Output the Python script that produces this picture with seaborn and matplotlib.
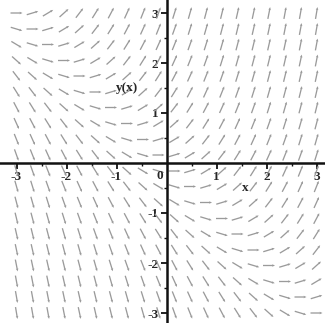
# Direction field of y'(x) (Maple style plot)

import matplotlib
matplotlib.use('Agg')
import matplotlib.pyplot as plt
import numpy as np
import seaborn as sns

# grid points of the arrows (20 x 20)
grid_x = [-3.00, -2.68, -2.37, -2.05, -1.74, -1.42, -1.11, -0.79, -0.47, -0.16,
          0.16, 0.47, 0.79, 1.11, 1.42, 1.74, 2.05, 2.37, 2.68, 3.00]
grid_y = [-3.00, -2.68, -2.37, -2.05, -1.74, -1.42, -1.11, -0.79, -0.47, -0.16,
          0.16, 0.47, 0.79, 1.11, 1.42, 1.74, 2.05, 2.37, 2.68, 3.00]

# slope dy/dx at each grid point, one row per grid_y value (bottom row first)
slopes = [
    [-6.0, -5.7, -5.4, -5.1, -4.7, -4.4, -4.1, -3.8, -3.5, -3.2, -2.8, -2.5, -2.2, -1.9, -1.6, -1.3, -0.9, -0.6, -0.3, 0.0],
    [-5.7, -5.4, -5.1, -4.7, -4.4, -4.1, -3.8, -3.5, -3.2, -2.8, -2.5, -2.2, -1.9, -1.6, -1.3, -0.9, -0.6, -0.3, 0.0, 0.3],
    [-5.4, -5.1, -4.7, -4.4, -4.1, -3.8, -3.5, -3.2, -2.8, -2.5, -2.2, -1.9, -1.6, -1.3, -0.9, -0.6, -0.3, 0.0, 0.3, 0.6],
    [-5.1, -4.7, -4.4, -4.1, -3.8, -3.5, -3.2, -2.8, -2.5, -2.2, -1.9, -1.6, -1.3, -0.9, -0.6, -0.3, 0.0, 0.3, 0.6, 0.9],
    [-4.7, -4.4, -4.1, -3.8, -3.5, -3.2, -2.8, -2.5, -2.2, -1.9, -1.6, -1.3, -0.9, -0.6, -0.3, 0.0, 0.3, 0.6, 0.9, 1.3],
    [-4.4, -4.1, -3.8, -3.5, -3.2, -2.8, -2.5, -2.2, -1.9, -1.6, -1.3, -0.9, -0.6, -0.3, 0.0, 0.3, 0.6, 0.9, 1.3, 1.6],
    [-4.1, -3.8, -3.5, -3.2, -2.8, -2.5, -2.2, -1.9, -1.6, -1.3, -0.9, -0.6, -0.3, 0.0, 0.3, 0.6, 0.9, 1.3, 1.6, 1.9],
    [-3.8, -3.5, -3.2, -2.8, -2.5, -2.2, -1.9, -1.6, -1.3, -0.9, -0.6, -0.3, 0.0, 0.3, 0.6, 0.9, 1.3, 1.6, 1.9, 2.2],
    [-3.5, -3.2, -2.8, -2.5, -2.2, -1.9, -1.6, -1.3, -0.9, -0.6, -0.3, 0.0, 0.3, 0.6, 0.9, 1.3, 1.6, 1.9, 2.2, 2.5],
    [-3.2, -2.8, -2.5, -2.2, -1.9, -1.6, -1.3, -0.9, -0.6, -0.3, 0.0, 0.3, 0.6, 0.9, 1.3, 1.6, 1.9, 2.2, 2.5, 2.8],
    [-2.8, -2.5, -2.2, -1.9, -1.6, -1.3, -0.9, -0.6, -0.3, 0.0, 0.3, 0.6, 0.9, 1.3, 1.6, 1.9, 2.2, 2.5, 2.8, 3.2],
    [-2.5, -2.2, -1.9, -1.6, -1.3, -0.9, -0.6, -0.3, 0.0, 0.3, 0.6, 0.9, 1.3, 1.6, 1.9, 2.2, 2.5, 2.8, 3.2, 3.5],
    [-2.2, -1.9, -1.6, -1.3, -0.9, -0.6, -0.3, 0.0, 0.3, 0.6, 0.9, 1.3, 1.6, 1.9, 2.2, 2.5, 2.8, 3.2, 3.5, 3.8],
    [-1.9, -1.6, -1.3, -0.9, -0.6, -0.3, 0.0, 0.3, 0.6, 0.9, 1.3, 1.6, 1.9, 2.2, 2.5, 2.8, 3.2, 3.5, 3.8, 4.1],
    [-1.6, -1.3, -0.9, -0.6, -0.3, 0.0, 0.3, 0.6, 0.9, 1.3, 1.6, 1.9, 2.2, 2.5, 2.8, 3.2, 3.5, 3.8, 4.1, 4.4],
    [-1.3, -0.9, -0.6, -0.3, 0.0, 0.3, 0.6, 0.9, 1.3, 1.6, 1.9, 2.2, 2.5, 2.8, 3.2, 3.5, 3.8, 4.1, 4.4, 4.7],
    [-0.9, -0.6, -0.3, 0.0, 0.3, 0.6, 0.9, 1.3, 1.6, 1.9, 2.2, 2.5, 2.8, 3.2, 3.5, 3.8, 4.1, 4.4, 4.7, 5.1],
    [-0.6, -0.3, 0.0, 0.3, 0.6, 0.9, 1.3, 1.6, 1.9, 2.2, 2.5, 2.8, 3.2, 3.5, 3.8, 4.1, 4.4, 4.7, 5.1, 5.4],
    [-0.3, 0.0, 0.3, 0.6, 0.9, 1.3, 1.6, 1.9, 2.2, 2.5, 2.8, 3.2, 3.5, 3.8, 4.1, 4.4, 4.7, 5.1, 5.4, 5.7],
    [0.0, 0.3, 0.6, 0.9, 1.3, 1.6, 1.9, 2.2, 2.5, 2.8, 3.2, 3.5, 3.8, 4.1, 4.4, 4.7, 5.1, 5.4, 5.7, 6.0],
]

x_ticks = [-3, -2, -1, 1, 2, 3]
y_ticks = [-3, -2, -1, 1, 2, 3]

sns.set_theme(style='white')
plt.rcParams['font.family'] = ['Liberation Serif', 'DejaVu Serif']

fig = plt.figure(figsize=(3.25, 3.23), dpi=100)
ax = fig.add_axes([0, 0, 1, 1])

# arrows of equal length, direction given by the slope
X, Y = np.meshgrid(grid_x, grid_y)
theta = np.arctan(np.array(slopes))
arrow_len = 0.24
U = arrow_len * np.cos(theta)
V = arrow_len * np.sin(theta)
ax.quiver(X, Y, U, V, angles='xy', scale_units='xy', scale=1, pivot='middle',
          color='#9a9a9a', width=0.004, headwidth=2.0, headlength=2.2,
          headaxislength=2.0, zorder=2)

ax.set_xlim(-3.33, 3.17)
ax.set_ylim(-3.2, 3.26)

# axes through the origin, Maple style
for side in ['top', 'right']:
    ax.spines[side].set_visible(False)
for side in ['left', 'bottom']:
    ax.spines[side].set_position('zero')
    ax.spines[side].set_color('#111111')
    ax.spines[side].set_linewidth(1.8)
    ax.spines[side].set_zorder(3)

ax.set_xticks(x_ticks)
ax.set_yticks(y_ticks)
ax.set_xticks([-2.5, -1.5, -0.5, 0.5, 1.5, 2.5], minor=True)
ax.set_yticks([-2.5, -1.5, -0.5, 0.5, 1.5, 2.5], minor=True)
ax.set_xticklabels([str(t) for t in x_ticks], fontweight='bold', fontsize=9.5)
ax.set_yticklabels([str(t) for t in y_ticks], fontweight='bold', fontsize=9.5)
ax.tick_params(axis='both', which='major', direction='out', length=4, width=1.3,
               color='#111111', pad=2, bottom=True, left=True)
ax.tick_params(axis='both', which='minor', direction='out', length=2.5, width=1,
               color='#111111', bottom=True, left=True)

ax.text(-0.13, -0.27, '0', fontsize=9.5, fontweight='bold', ha='center', va='center')
ax.text(1.57, -0.5, 'x', fontsize=9.5, fontweight='bold', ha='center', va='center')
ax.text(-0.78, 1.5, 'y(x)', fontsize=9.5, fontweight='bold', ha='center', va='center')

ax.grid(False)
fig.savefig('out.png', dpi=100, facecolor='white')
